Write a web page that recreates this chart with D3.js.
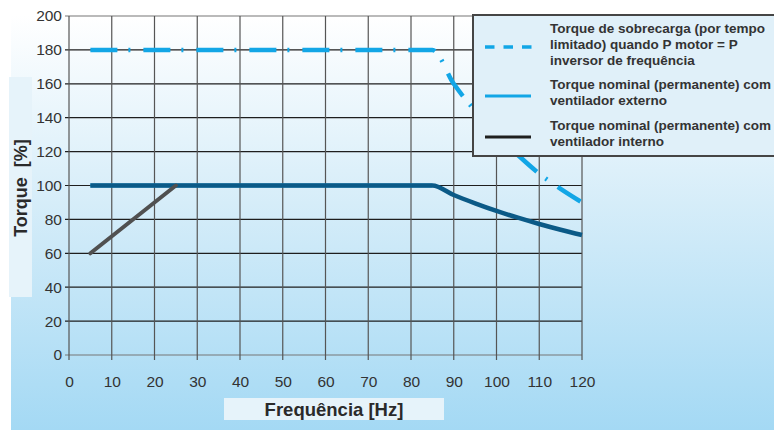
<!DOCTYPE html>
<html><head><meta charset="utf-8">
<script src="https://cdn.jsdelivr.net/npm/d3@7"></script>
<style>html,body{margin:0;padding:0;background:#fff}svg{display:block}</style>
</head><body>
<svg id="c" width="774" height="430"></svg>
<script>
const xTicks = [0,10,20,30,40,50,60,70,80,90,100,110,120];
const yTicks = [0,20,40,60,80,100,120,140,160,180,200];
// Overload torque (dash-dot light blue)
const overloadF = [5,85,90,95,100,105,110,115,120];
const overloadT = [180,180,160,144,130,118,107,98,90];
// Nominal torque, external fan (light blue solid, mostly hidden)
const externalF = [5,85];
const externalT = [100,100];
// Nominal torque, dark blue line
const nominalF = [5,85,90,95,100,105,110,115,120];
const nominalT = [100,100,94.4,89.5,85,81,77.3,73.9,70.8];
// Internal fan ramp (gray)
const internalF = [5,25];
const internalT = [60,100];
const legendLabels = [
  ["Torque de sobrecarga (por tempo","limitado) quando P motor = P","inversor de frequência"],
  ["Torque nominal (permanente) com","ventilador externo"],
  ["Torque nominal (permanente) com","ventilador interno"]
];
const xTitle = "Frequência [Hz]";
const yTitle = "Torque  [%]";

const svg = d3.select("#c");
const defs = svg.append("defs");
const g = defs.append("linearGradient").attr("id","bg").attr("x1",0).attr("y1",0).attr("x2",0).attr("y2",1);
g.append("stop").attr("offset","0%").attr("stop-color","#ffffff");
g.append("stop").attr("offset","45%").attr("stop-color","#d6edf9");
g.append("stop").attr("offset","100%").attr("stop-color","#a4d9f4");
svg.append("rect").attr("x",11).attr("y",15).attr("width",763).attr("height",415).attr("fill","url(#bg)");

const x = d3.scaleLinear().domain([0,120]).range([69,582]);
const y = d3.scaleLinear().domain([0,200]).range([355,16]);

// y title box
svg.append("rect").attr("x",9).attr("y",77).attr("width",23).attr("height",220).attr("fill","#e6f3fa");
svg.append("text").attr("transform",`translate(27,188) rotate(-90)`).attr("text-anchor","middle")
  .attr("font-family","Liberation Sans, Arial, sans-serif").attr("font-weight","bold").attr("font-size",18)
  .attr("fill","#2a2a2a").style("white-space","pre").text(yTitle);
// x title box
svg.append("rect").attr("x",224).attr("y",398).attr("width",220).attr("height",22).attr("fill","#e6f3fa");
svg.append("text").attr("x",334).attr("y",416).attr("text-anchor","middle")
  .attr("font-family","Liberation Sans, Arial, sans-serif").attr("font-weight","bold").attr("font-size",18.5)
  .attr("fill","#2a2a2a").text(xTitle);

// grid
const grid = svg.append("g");
grid.selectAll("line.h").data(yTicks).join("line").attr("class","h")
  .attr("x1",65).attr("x2",x(120)).attr("y1",d=>y(d)).attr("y2",d=>y(d))
  .attr("stroke",d=>(d===0||d===200)?"#777":"#1e1e1e").attr("stroke-width",1.2);
grid.selectAll("line.v").data(xTicks).join("line").attr("class","v")
  .attr("x1",d=>x(d)).attr("x2",d=>x(d)).attr("y1",y(200)).attr("y2",360)
  .attr("stroke","#555").attr("stroke-width",1.2);

// axes labels via d3 axes
const yAxis = svg.append("g").attr("transform","translate(62,0)")
  .call(d3.axisLeft(y).tickValues(yTicks).tickSize(0).tickPadding(0));
const xAxis = svg.append("g").attr("transform","translate(0,371)")
  .call(d3.axisBottom(x).tickValues(xTicks).tickSize(0).tickPadding(5));
[yAxis,xAxis].forEach(a=>{
  a.select(".domain").remove();
  a.selectAll("text").attr("font-family","Liberation Sans Narrow, Liberation Sans, Arial, sans-serif").attr("font-size",15.5).attr("fill","#333");
});

const line = d3.line().x(d=>x(d[0])).y(d=>y(d[1])).curve(d3.curveMonotoneX);
const zip = (a,b)=>a.map((v,i)=>[v,b[i]]);

svg.append("path").datum(zip(externalF,externalT)).attr("d",line).attr("fill","none")
  .attr("stroke","#1aa7e3").attr("stroke-width",4);
svg.append("path").datum(zip(nominalF,nominalT)).attr("d",line).attr("fill","none")
  .attr("stroke","#0b5a87").attr("stroke-width",4.5);
svg.append("path").datum(zip(internalF,internalT)).attr("d",line).attr("fill","none")
  .attr("stroke","#505050").attr("stroke-width",4).attr("stroke-linecap","round");
svg.append("path").datum(zip(overloadF,overloadT)).attr("d",line).attr("fill","none")
  .attr("stroke","#12a6e6").attr("stroke-width",4.5).attr("stroke-dasharray","27,11,2,13");

// legend
const lg = svg.append("g");
lg.append("rect").attr("x",473).attr("y",15).attr("width",305).attr("height",141)
  .attr("fill","#e0f0f9").attr("stroke","#454545").attr("stroke-width",2);
const ly = [47,96,137];
lg.append("line").attr("x1",485).attr("x2",532).attr("y1",ly[0]).attr("y2",ly[0])
  .attr("stroke","#12a6e6").attr("stroke-width",3.5).attr("stroke-dasharray","9.5,9");
lg.append("line").attr("x1",485).attr("x2",531).attr("y1",ly[1]).attr("y2",ly[1])
  .attr("stroke","#12a6e6").attr("stroke-width",3);
lg.append("line").attr("x1",485).attr("x2",531).attr("y1",ly[2]).attr("y2",ly[2])
  .attr("stroke","#1f1f1f").attr("stroke-width",3);
const textTops = [33,89,130];
legendLabels.forEach((lines,i)=>{
  const t = lg.append("text").attr("font-family","Liberation Sans, Arial, sans-serif").attr("font-weight","bold")
    .attr("font-size",13.5).attr("fill","#333");
  lines.forEach((s,j)=>t.append("tspan").attr("x",550).attr("y",textTops[i]+j*16).text(s));
});
</script>
</body></html>
